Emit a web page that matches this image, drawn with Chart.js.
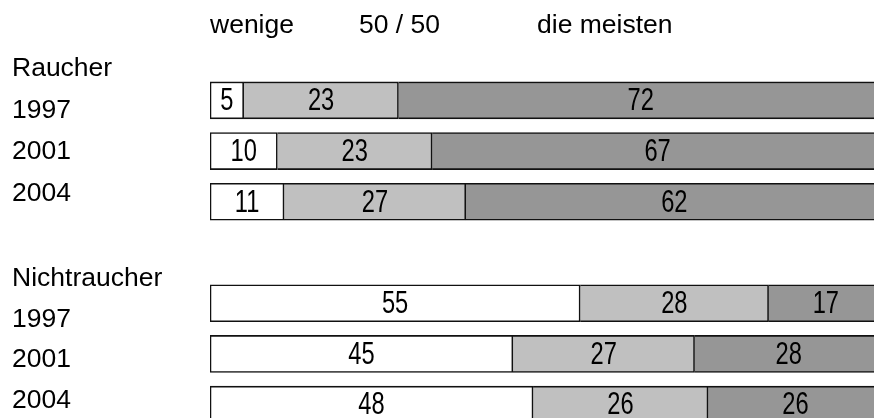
<!DOCTYPE html>
<html>
<head>
<meta charset="utf-8">
<script src="https://cdn.jsdelivr.net/npm/chart.js@4.4.1/dist/chart.umd.min.js"></script>
<style>
  html, body { margin: 0; padding: 0; background: #fff; }
  #wrap { width: 874px; height: 418px; overflow: hidden; position: relative; }
  canvas { display: block; }
</style>
</head>
<body>
<div id="wrap"><canvas id="c" width="884" height="432"></canvas></div>
<script>
// Rows: smokers 1997/2001/2004, an empty spacer row, non-smokers 1997/2001/2004
const categories = ['Raucher 1997', 'Raucher 2001', 'Raucher 2004', '', 'Nichtraucher 1997', 'Nichtraucher 2001', 'Nichtraucher 2004'];
const wenige  = [5, 10, 11, null, 55, 45, 48];
const halbe   = [23, 23, 27, null, 28, 27, 26];
const meisten = [72, 67, 62, null, 17, 28, 26];

// Column headings and row labels
const headings = ['wenige', '50 / 50', 'die meisten'];
const groups = ['Raucher', 'Nichtraucher'];
const years = ['1997', '2001', '2004'];

const textFont = '26.5px "Liberation Sans", Arial, sans-serif';

// Segment numbers use a narrow face when one is installed, otherwise a squeezed regular face
const probe = document.createElement('canvas').getContext('2d');
probe.font = '32px "Liberation Sans Narrow", monospace';
const wNarrow = probe.measureText('0000').width;
probe.font = '32px monospace';
const hasNarrow = Math.abs(wNarrow - probe.measureText('0000').width) > 0.5;
const numFont = hasNarrow ? '32px "Liberation Sans Narrow"' : '32px "Liberation Sans", Arial, sans-serif';
const numSqueeze = hasNarrow ? 0.9 : 0.74;

// Headings above the bars and the row labels on the left
const sideText = {
  id: 'sideText',
  afterDraw(chart) {
    const ctx = chart.ctx;
    ctx.save();
    ctx.fillStyle = '#000';
    ctx.font = textFont;
    ctx.textAlign = 'left';
    ctx.textBaseline = 'alphabetic';
    const headX = [210, 359, 537];
    headings.forEach((h, i) => ctx.fillText(h, headX[i], 33));
    const groupBase = [76, 286];
    const rowY = [[118, 159, 201], [327, 367, 408]];
    groups.forEach((g, gi) => {
      ctx.fillText(g, 12, groupBase[gi]);
      years.forEach((y, yi) => ctx.fillText(y, 12, rowY[gi][yi]));
    });
    ctx.restore();
  }
};

// Value written in the middle of each segment
const segLabels = {
  id: 'segLabels',
  afterDatasetsDraw(chart) {
    const ctx = chart.ctx;
    ctx.save();
    ctx.fillStyle = '#000';
    ctx.font = numFont;
    ctx.textAlign = 'center';
    ctx.textBaseline = 'middle';
    chart.data.datasets.forEach((ds, di) => {
      const meta = chart.getDatasetMeta(di);
      meta.data.forEach((bar, i) => {
        const v = ds.data[i];
        if (v == null) return;
        const p = bar.getProps(['x', 'y', 'base'], true);
        const cx = (p.x + p.base) / 2;
        ctx.save();
        ctx.translate(cx, p.y + 1);
        ctx.scale(numSqueeze, 1);
        ctx.fillText(String(v), 0, 0);
        ctx.restore();
      });
    });
    ctx.restore();
  }
};

const common = { borderColor: '#111', borderWidth: 1.6, barThickness: 37 };

new Chart(document.getElementById('c'), {
  type: 'bar',
  data: {
    labels: categories,
    datasets: [
      Object.assign({ label: 'wenige', data: wenige, backgroundColor: '#ffffff', borderSkipped: false }, common),
      Object.assign({ label: '50 / 50', data: halbe, backgroundColor: '#c0c0c0', borderSkipped: 'start' }, common),
      Object.assign({ label: 'die meisten', data: meisten, backgroundColor: '#969696', borderSkipped: 'start' }, common)
    ]
  },
  options: {
    indexAxis: 'y',
    responsive: false,
    animation: false,
    devicePixelRatio: 1,
    layout: { padding: { left: 210, right: 1, top: 75, bottom: 2 } },
    scales: {
      x: { stacked: true, min: 0, max: 100, display: false },
      y: { stacked: true, display: false }
    },
    plugins: { legend: { display: false }, tooltip: { enabled: false } }
  },
  plugins: [sideText, segLabels]
});
</script>
</body>
</html>
